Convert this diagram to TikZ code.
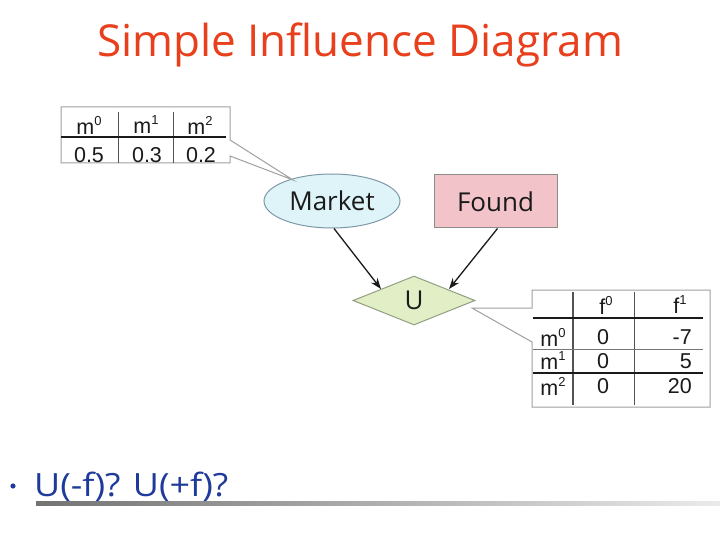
\documentclass[tikz,border=0pt]{standalone}
\usepackage{fontspec}
\setmainfont{DejaVu Sans}
\newfontfamily\titlefont{Open Sans}
\newfontfamily\widefont[FakeStretch=1.12]{Open Sans}
\newfontfamily\tabfont{Liberation Sans}
\usetikzlibrary{shapes.geometric,arrows.meta}
\definecolor{titlered}{HTML}{E8401C}
\definecolor{ellfill}{HTML}{DFF4F8}
\definecolor{elldraw}{HTML}{7C98A8}
\definecolor{foundfill}{HTML}{F2C4CA}
\definecolor{founddraw}{HTML}{8C8C8C}
\definecolor{dmfill}{HTML}{E2EEC6}
\definecolor{dmdraw}{HTML}{8E9E7E}
\definecolor{bulblue}{HTML}{1E3A9A}
\definecolor{boxgray}{HTML}{A0A0A0}
\definecolor{ink}{HTML}{1A1A1A}
\newcommand{\supr}[1]{\raisebox{0.42em}{\fontsize{13}{13}\selectfont #1}}
\tikzset{
  x=1pt,y=-1pt,
  lbl/.style={font=\titlefont\fontsize{26}{28}\selectfont,text=ink},
  tabtxt/.style={font=\tabfont\fontsize{21.5}{23}\selectfont,text=ink,inner sep=0pt},
  callout/.style={draw=boxgray,line width=1pt,fill=white},
  thickrule/.style={draw=ink,line width=1.6pt},
  thinrule/.style={draw=ink!60,line width=0.8pt},
  colrule/.style={draw=ink!75,line width=1pt},
  infl/.style={draw=ink,line width=1.3pt,-{Stealth[length=11pt,width=8pt]}},
}
\begin{document}
\begin{tikzpicture}
\useasboundingbox (0,0) rectangle (720,540);
\fill[white] (0,0) rectangle (720,540);
% title
\node[font=\titlefont\fontsize{44}{48}\selectfont,text=titlered] (title) at (360,45) {Simple Influence Diagram};
% nodes
\node[ellipse,draw=elldraw,fill=ellfill,line width=1pt,minimum width=136pt,minimum height=54pt,lbl] (market) at (332,201) {Market};
\node[rectangle,draw=founddraw,fill=foundfill,line width=1pt,minimum width=123pt,minimum height=53pt,lbl] (found) at (495.5,201.5) {Found};
\node[diamond,draw=dmdraw,fill=dmfill,line width=1pt,minimum width=122pt,minimum height=49pt,inner sep=0pt,lbl,aspect=2.5] (u) at (414,300.5) {U};
% arrows
\draw[infl] (market.south) ++(2,0) coordinate (ms) -- (381,289);
\draw[infl] (found.south) ++(2,0) coordinate (fs) -- (449,289);
% left table callout
\coordinate (ltip) at (293,180);
\path[callout] (61,107) -- (230,107) -- (230,140) -- (ltip) -- (230,156) -- (230,163) -- (61,163) -- cycle;
\node[inner sep=0pt,minimum width=169pt,minimum height=56pt] (ltab) at (145.5,135) {};
\draw[colrule] (118,112) -- (118,163);
\draw[colrule] (173,112) -- (173,163);
\draw[thickrule] (61,137) -- (226,137);
\node[tabtxt] (lm0) at (89,125) {m\supr{0}};
\node[tabtxt] (lm1) at (146,125) {m\supr{1}};
\node[tabtxt] (lm2) at (200,125) {m\supr{2}};
\node[tabtxt] (lv0) at (89,155) {0.5};
\node[tabtxt] (lv1) at (147,155) {0.3};
\node[tabtxt] (lv2) at (201,155) {0.2};
% right table callout
\coordinate (rtip) at (472,308);
\path[callout] (532,290) -- (710,290) -- (710,407) -- (532,407) -- (532,342) -- (rtip) -- (532,308) -- cycle;
\node[inner sep=0pt,minimum width=178pt,minimum height=117pt] (rtab) at (621,348.5) {};
\draw[colrule,line width=1.4pt] (573,292) -- (573,405);
\draw[colrule] (634,292) -- (634,405);
\draw[thickrule] (533,318) -- (703,318);
\draw[thinrule] (533,349) -- (703,349);
\draw[thickrule] (533,373) -- (703,373);
\node[tabtxt] (rf0) at (606,305) {f\supr{0}};
\node[tabtxt] (rf1) at (680,305) {f\supr{1}};
\node[tabtxt] (rm0) at (553,337) {m\supr{0}};
\node[tabtxt] (rm1) at (553,361) {m\supr{1}};
\node[tabtxt] (rm2) at (553,386) {m\supr{2}};
\node[tabtxt] (r00) at (603,337) {0};
\node[tabtxt] (r10) at (603,361) {0};
\node[tabtxt] (r20) at (603,386) {0};
\node[tabtxt,anchor=east] (r01) at (692,337) {-7};
\node[tabtxt,anchor=east] (r11) at (692,361) {5};
\node[tabtxt,anchor=east] (r21) at (692,386) {20};
% bullet
\shade[left color=black!55,right color=black!8] (36,501.5) rectangle (720,505);
\fill[bulblue] (13,486) circle (2.6pt);
\node[font=\widefont\fontsize{32}{34}\selectfont,text=bulblue,anchor=west,inner sep=0pt] (q) at (34,487) {U(-f)? U(+f)?};
\end{tikzpicture}
\end{document}
